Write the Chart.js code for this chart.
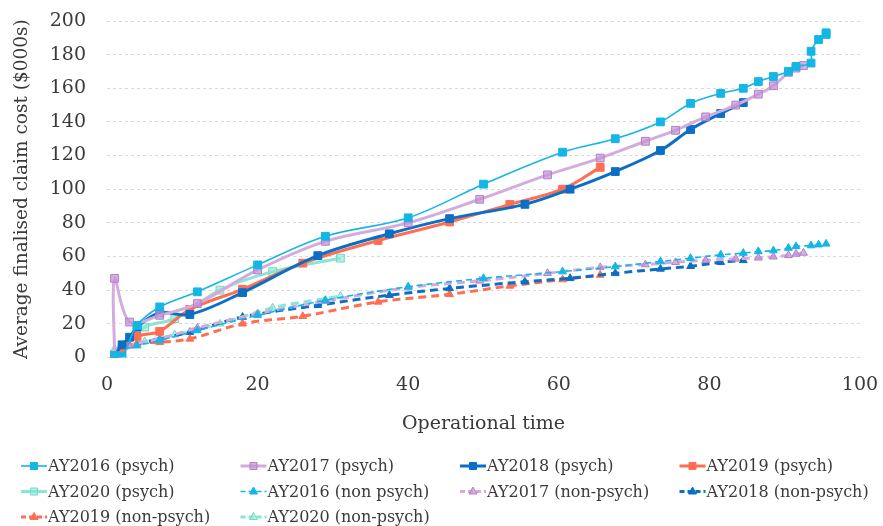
<!DOCTYPE html>
<html>
<head>
<meta charset="utf-8">
<script src="https://cdn.jsdelivr.net/npm/chart.js@4/dist/chart.umd.min.js"></script>
<style>
  html, body { margin: 0; padding: 0; background: #fff; }
  #wrap { width: 883px; height: 526px; position: relative; }
</style>
</head>
<body>
<div id="wrap"><canvas id="grafico"></canvas></div>
<script>
// Operational time (x) and average finalised claim cost in $000s (y)
const x2016psych = [1, 2, 4, 7, 12, 20, 29, 40, 50, 60.5, 67.5, 73.5, 77.5, 81.5, 84.5, 86.5, 88.5, 90.5, 91.5, 93.5, 93.5, 94.5, 95.5, 95.5];
const y2016psych = [1, 0.5, 19, 30, 39, 55, 72, 83, 103, 122, 130, 140, 151, 157, 160, 164, 167, 170, 173, 175, 182, 189, 192, 193];
const x2017psych = [1, 1, 3, 7, 12, 20, 29, 40, 49.5, 58.5, 65.5, 71.5, 75.5, 79.5, 83.5, 86.5, 88.5, 90.5, 91.5, 92.5];
const y2017psych = [1, 47, 21, 25, 32, 52, 69, 80, 94, 108.5, 118.5, 128.5, 135, 143, 150, 156.5, 161.5, 169.5, 172, 173.5];
const x2018psych = [1, 2, 3, 4, 7, 11, 18, 28, 37.5, 45.5, 55.5, 61.5, 67.5, 73.5, 77.5, 81.5, 84.5];
const y2018psych = [1, 7.5, 12, 18, 26.5, 25.5, 38.5, 60.5, 73.5, 82.5, 91, 100, 110.5, 123, 135.5, 145, 151.5];
const x2019psych = [1, 2, 4, 7, 11, 18, 26, 36, 45.5, 53.5, 60.5, 65.5];
const y2019psych = [1, 5, 12.5, 15.5, 28.5, 40.5, 56, 69.5, 80.5, 91, 100, 113];
const x2020psych = [1, 5, 9, 15, 22, 31];
const y2020psych = [2, 18, 23, 40, 51, 59];

const x2016non = [1, 2, 4, 7, 12, 20, 29, 40, 50, 60.5, 67.5, 73.5, 77.5, 81.5, 84.5, 86.5, 88.5, 90.5, 91.5, 93.5, 94.5, 95.5];
const y2016non = [2, 4, 7, 10, 16, 25, 34, 42, 47, 51, 54, 57, 59, 61, 62, 63, 63.5, 65, 66, 66.5, 67, 67.5];
const x2017non = [1, 3, 7, 12, 20, 29, 40, 49.5, 58.5, 65.5, 71.5, 75.5, 79.5, 83.5, 86.5, 88.5, 90.5, 91.5, 92.5];
const y2017non = [2, 7, 11, 17.5, 26, 33.5, 41.5, 45.5, 50, 53.5, 55.2, 56.6, 57.7, 58.6, 59.2, 59.8, 60.7, 61.5, 62.1];
const x2018non = [1, 2, 3, 7, 11, 18, 28, 37.5, 45.5, 55.5, 61.5, 67.5, 73.5, 77.5, 81.5, 84.5];
const y2018non = [1, 6, 7, 11, 15, 24, 31, 37, 41, 45, 47, 50, 52.6, 54.2, 56.6, 57.7];
const x2019non = [1, 2, 4, 7, 11, 18, 26, 36, 45.5, 53.5, 60.5, 65.5];
const y2019non = [1, 5, 8.5, 9, 11, 20, 24.5, 33, 37.5, 42.5, 46.3, 49];
const x2020non = [1, 5, 9, 15, 22, 31];
const y2020non = [5, 9.5, 13.5, 20, 29.5, 36.5];

const xTicks = [0, 20, 40, 60, 80, 100];
const yTicks = [0, 20, 40, 60, 80, 100, 120, 140, 160, 180, 200];

const FONTE = "'DejaVu Serif', serif";
const TEXTO = '#3a3a3a';

function pontos(xs, ys) {
    return xs.map((x, i) => ({ x: x, y: ys[i] }));
}

function serie(label, xs, ys, cor, fill, borda, largura, tracejado, forma) {
    return {
        label: label,
        data: pontos(xs, ys),
        borderColor: cor,
        borderWidth: largura,
        borderDash: tracejado,
        backgroundColor: fill,
        pointStyle: forma,
        pointRadius: forma === 'rect' ? 5.5 : 4.5,
        pointBackgroundColor: fill,
        pointBorderColor: borda,
        pointBorderWidth: 1,
        tension: 0.35,
        fill: false
    };
}

const datasets = [
    serie('AY2016 (psych)', x2016psych, y2016psych, '#14b6e6', '#14b6e6', '#14b6e6', 1.6, [], 'rect'),
    serie('AY2017 (psych)', x2017psych, y2017psych, '#d3acdd', 'rgba(196,146,214,0.7)', '#b47fc8', 3, [], 'rect'),
    serie('AY2018 (psych)', x2018psych, y2018psych, '#0b6fc6', '#0b6fc6', '#0b6fc6', 3, [], 'rect'),
    serie('AY2019 (psych)', x2019psych, y2019psych, '#ff6e52', '#ff6e52', '#ff6e52', 3, [], 'rect'),
    serie('AY2020 (psych)', x2020psych, y2020psych, '#8ae6d3', 'rgba(138,230,211,0.6)', '#6fdcc6', 3, [], 'rect'),
    serie('AY2016 (non psych)', x2016non, y2016non, '#14b6e6', '#14b6e6', '#14b6e6', 1.6, [6, 4], 'triangle'),
    serie('AY2017 (non-psych)', x2017non, y2017non, '#d3acdd', 'rgba(196,146,214,0.7)', '#b47fc8', 3, [8, 5], 'triangle'),
    serie('AY2018 (non-psych)', x2018non, y2018non, '#0b6fc6', '#0b6fc6', '#0b6fc6', 3, [8, 5], 'triangle'),
    serie('AY2019 (non-psych)', x2019non, y2019non, '#ff6e52', '#ff6e52', '#ff6e52', 3, [8, 5], 'triangle'),
    serie('AY2020 (non-psych)', x2020non, y2020non, '#8ae6d3', 'rgba(138,230,211,0.6)', '#6fdcc6', 3, [8, 5], 'triangle')
];

// Legenda em grade (4 colunas), desenhada no canvas
const legendaGrade = {
    id: 'legendaGrade',
    afterDraw(chart) {
        const ctx = chart.ctx;
        chart.data.datasets.forEach((ds, i) => {
            const col = i % 4, lin = Math.floor(i / 4);
            const x0 = 21 + col * 219.5;
            const y = 466 + lin * 25.5;
            ctx.save();
            ctx.strokeStyle = ds.borderColor;
            ctx.lineWidth = ds.borderWidth;
            ctx.setLineDash(ds.borderDash.length ? [5, 3] : []);
            ctx.beginPath();
            ctx.moveTo(x0, y);
            ctx.lineTo(x0 + 26, y);
            ctx.stroke();
            ctx.setLineDash([]);
            ctx.fillStyle = ds.pointBackgroundColor;
            ctx.strokeStyle = ds.pointBorderColor;
            ctx.lineWidth = 1;
            const cx = x0 + 13;
            ctx.beginPath();
            if (ds.pointStyle === 'rect') {
                ctx.rect(cx - 3.5, y - 3.5, 7, 7);
            } else {
                ctx.moveTo(cx, y - 4.5);
                ctx.lineTo(cx + 4, y + 2.5);
                ctx.lineTo(cx - 4, y + 2.5);
                ctx.closePath();
            }
            ctx.fill();
            ctx.stroke();
            ctx.fillStyle = TEXTO;
            ctx.font = '16px ' + FONTE;
            ctx.textBaseline = 'middle';
            ctx.textAlign = 'left';
            ctx.fillText(ds.label, x0 + 27, y + 1);
            ctx.restore();
        });
    }
};

const ctx = document.getElementById('grafico').getContext('2d');
const grafico = new Chart(ctx, {
    type: 'line',
    data: { datasets: datasets },
    options: {
        responsive: true,
        maintainAspectRatio: false,
        animation: false,
        layout: { padding: { top: 21, right: 23, bottom: 91, left: 11 } },
        plugins: {
            legend: { display: false },
            tooltip: { enabled: false }
        },
        scales: {
            x: {
                type: 'linear',
                min: 0,
                max: 100,
                afterBuildTicks: (axis) => { axis.ticks = xTicks.map(v => ({ value: v })); },
                afterFit: (axis) => { axis.paddingLeft = 0; axis.paddingRight = 0; },
                grid: { display: false, drawTicks: false },
                border: { display: false },
                ticks: { color: TEXTO, font: { family: FONTE, size: 19 }, padding: 16 },
                title: {
                    display: true,
                    text: 'Operational time',
                    color: TEXTO,
                    font: { family: FONTE, size: 19 },
                    padding: { top: 0, bottom: 0 }
                }
            },
            y: {
                min: 0,
                max: 200,
                afterBuildTicks: (axis) => { axis.ticks = yTicks.map(v => ({ value: v })); },
                afterFit: (axis) => { axis.width = 96; axis.paddingTop = 0; axis.paddingBottom = 0; },
                grid: { color: '#d9d9d9', lineWidth: 1, drawTicks: false },
                border: { display: false, dash: [3, 3] },
                ticks: { color: TEXTO, font: { family: FONTE, size: 19 }, padding: 21 },
                title: {
                    display: true,
                    text: 'Average finalised claim cost ($000s)',
                    color: TEXTO,
                    font: { family: FONTE, size: 18.5 },
                    padding: { top: 0, bottom: 0 }
                }
            }
        }
    },
    plugins: [legendaGrade]
});
</script>
</body>
</html>
